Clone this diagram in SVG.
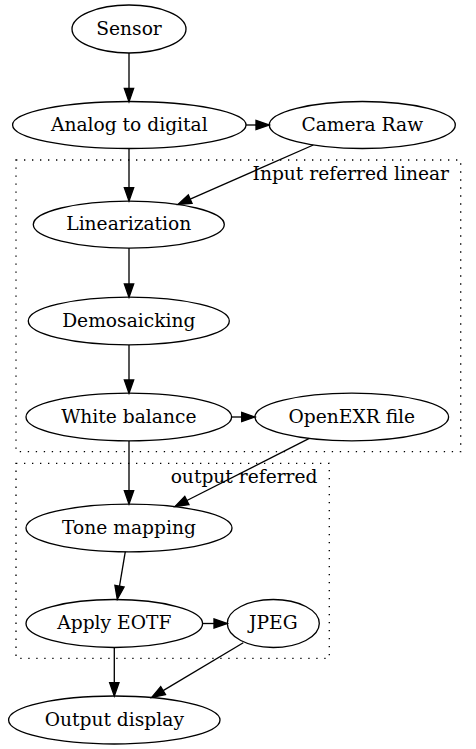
<svg xmlns="http://www.w3.org/2000/svg" width="476" height="749" viewBox="0 0 476 749">
<style>
  .node ellipse { fill: none; stroke: #000; stroke-width: 1.33; }
  text { font-family: "DejaVu Serif", "Liberation Serif", serif; font-size: 18.67px; fill: #000; }
  .node text { text-anchor: middle; }
  .cluster rect { fill: none; stroke: #000; stroke-width: 1.33; stroke-dasharray: 1.33 6.67; }
  .cluster text { text-anchor: end; }
  .edges line { stroke: #000; stroke-width: 1.33; fill: none; marker-end: url(#arrow); }
</style>
<defs>
  <marker id="arrow" markerUnits="userSpaceOnUse" markerWidth="16" markerHeight="12" refX="0" refY="0" viewBox="-1 -6 16 12" orient="auto" overflow="visible">
    <path d="M0,-4.67 L13.33,0 L0,4.67 Z" fill="#000" stroke="#000" stroke-width="1.33"/>
  </marker>
</defs>
<rect width="476" height="749" fill="#fff"/>

<g id="cluster_input" class="cluster">
  <rect x="16" y="160" width="444.7" height="291.7"/>
  <text x="449" y="180">Input referred linear</text>
</g>
<g id="cluster_output" class="cluster">
  <rect x="16" y="463.3" width="313.3" height="195"/>
  <text x="317.5" y="483">output referred</text>
</g>

<g id="edges" class="edges">
  <line x1="129" y1="53" x2="129" y2="88.4"/>
  <line x1="246" y1="125" x2="256" y2="125"/>
  <line x1="129" y1="148.3" x2="129" y2="187.7"/>
  <line x1="313.3" y1="145" x2="190.2" y2="199.1"/>
  <line x1="129" y1="248.1" x2="129" y2="284"/>
  <line x1="129" y1="345" x2="129" y2="380"/>
  <line x1="231.7" y1="417" x2="241.7" y2="417"/>
  <line x1="129" y1="441" x2="129" y2="490.7"/>
  <line x1="309.3" y1="438.4" x2="186.9" y2="500.5"/>
  <line x1="125.3" y1="551.7" x2="119.5" y2="586.2"/>
  <line x1="202.7" y1="623.5" x2="214" y2="623.5"/>
  <line x1="114.3" y1="647.7" x2="114.3" y2="682.7"/>
  <line x1="243.3" y1="642.7" x2="163.1" y2="690.6"/>
</g>

<g id="sensor" class="node">
  <ellipse cx="129" cy="29" rx="57" ry="24"/>
  <text x="129" y="34.7">Sensor</text>
</g>
<g id="analog_to_digital" class="node">
  <ellipse cx="129.3" cy="125" rx="116.7" ry="23.5"/>
  <text x="129.3" y="130.7">Analog to digital</text>
</g>
<g id="camera_raw" class="node">
  <ellipse cx="362.3" cy="125" rx="93" ry="23.5"/>
  <text x="362.3" y="130.7">Camera Raw</text>
</g>
<g id="linearization" class="node">
  <ellipse cx="128.8" cy="224.6" rx="95.5" ry="23.5"/>
  <text x="128.8" y="230.3">Linearization</text>
</g>
<g id="demosaicking" class="node">
  <ellipse cx="128.8" cy="321" rx="100.5" ry="23.8"/>
  <text x="128.8" y="326.7">Demosaicking</text>
</g>
<g id="white_balance" class="node">
  <ellipse cx="128.8" cy="417" rx="102.8" ry="23.8"/>
  <text x="128.8" y="422.7">White balance</text>
</g>
<g id="openexr_file" class="node">
  <ellipse cx="351.8" cy="417" rx="96.8" ry="23.8"/>
  <text x="351.8" y="422.7">OpenEXR file</text>
</g>
<g id="tone_mapping" class="node">
  <ellipse cx="129" cy="528" rx="103" ry="23.8"/>
  <text x="129" y="533.7">Tone mapping</text>
</g>
<g id="apply_eotf" class="node">
  <ellipse cx="114.3" cy="623.5" rx="88.3" ry="24"/>
  <text x="114.3" y="629.2">Apply EOTF</text>
</g>
<g id="jpeg" class="node">
  <ellipse cx="273.3" cy="623.5" rx="46" ry="24"/>
  <text x="273.3" y="629.2">JPEG</text>
</g>
<g id="output_display" class="node">
  <ellipse cx="114.3" cy="720" rx="105.7" ry="24"/>
  <text x="114.3" y="725.7">Output display</text>
</g>
</svg>
